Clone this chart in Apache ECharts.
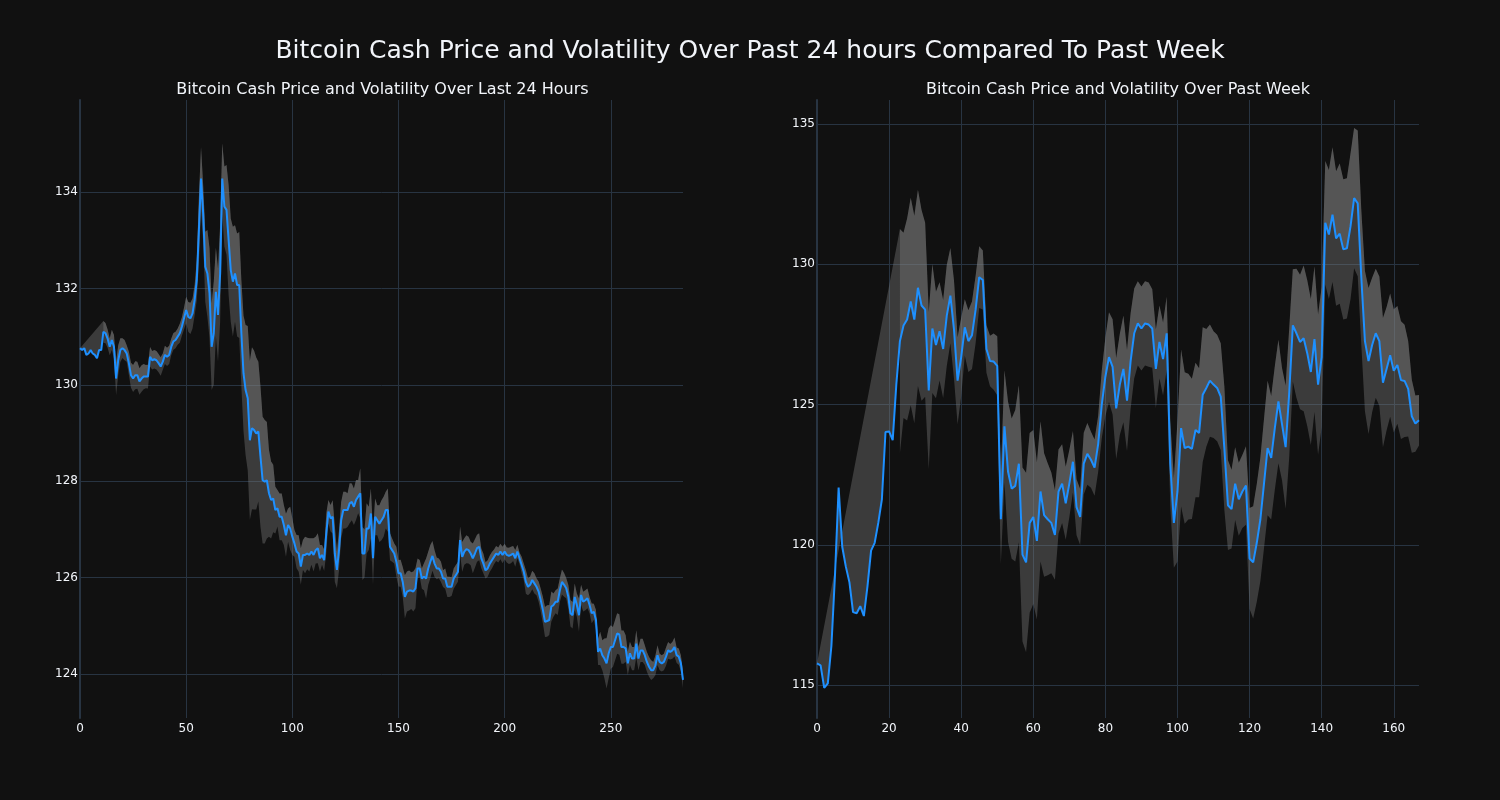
<!DOCTYPE html>
<html>
<head>
<meta charset="utf-8">
<script src="https://cdn.jsdelivr.net/npm/echarts@6/dist/echarts.min.js"></script>
<style>
html,body{margin:0;padding:0;background:#111111;}
#chart{width:1500px;height:800px;}
</style>
</head>
<body>
<div id="chart"></div>
<script>
// ---- Data ----
const mainTitle = 'Bitcoin Cash Price and Volatility Over Past 24 hours Compared To Past Week';
const leftTitle = 'Bitcoin Cash Price and Volatility Over Last 24 Hours';
const rightTitle = 'Bitcoin Cash Price and Volatility Over Past Week';

const leftPrice = [
130.76,130.72,130.76,130.62,130.65,130.72,130.65,130.62,130.55,130.72,
130.72,131.10,131.07,130.96,130.79,130.93,130.79,130.13,130.51,130.72,
130.76,130.72,130.65,130.45,130.20,130.13,130.20,130.20,130.07,130.13,
130.17,130.17,130.17,130.58,130.51,130.53,130.51,130.45,130.38,130.48,
130.62,130.58,130.62,130.79,130.90,130.93,131.00,131.07,131.21,131.38,
131.55,131.41,131.38,131.48,131.76,132.17,133.21,134.28,133.56,132.45,
132.31,131.90,130.79,131.07,131.93,131.45,132.31,134.28,133.70,133.63,
133.00,132.38,132.14,132.31,132.07,132.07,131.07,130.24,129.89,129.72,
128.85,129.10,129.06,128.99,129.03,128.51,128.02,127.99,128.02,127.75,
127.61,127.64,127.40,127.44,127.26,127.26,127.09,126.88,127.09,127.02,
126.85,126.71,126.54,126.50,126.23,126.47,126.47,126.50,126.47,126.54,
126.47,126.57,126.61,126.40,126.47,126.36,126.92,127.37,127.23,127.26,
126.50,126.16,126.57,127.19,127.40,127.40,127.40,127.54,127.57,127.47,
127.61,127.68,127.75,126.50,126.50,127.02,127.02,127.33,126.40,127.26,
127.19,127.12,127.19,127.26,127.40,127.40,126.64,126.57,126.50,126.33,
126.09,126.09,125.91,125.60,125.71,125.73,125.73,125.71,125.78,126.19,
126.19,125.98,126.02,125.98,126.19,126.33,126.45,126.29,126.19,126.19,
126.12,125.98,125.98,125.81,125.81,125.81,125.98,126.05,126.12,126.78,
126.43,126.54,126.59,126.57,126.50,126.40,126.50,126.61,126.64,126.40,
126.29,126.15,126.19,126.29,126.36,126.43,126.50,126.47,126.54,126.47,
126.54,126.47,126.45,126.47,126.50,126.40,126.54,126.40,126.26,126.12,
125.91,125.81,125.85,125.95,125.88,125.81,125.71,125.53,125.33,125.08,
125.10,125.12,125.40,125.43,125.50,125.50,125.74,125.91,125.85,125.78,
125.60,125.26,125.22,125.60,125.43,125.22,125.64,125.50,125.53,125.57,
125.43,125.26,125.29,125.12,124.46,124.53,124.39,124.32,124.22,124.43,
124.56,124.56,124.70,124.84,124.82,124.56,124.56,124.53,124.22,124.43,
124.32,124.32,124.63,124.32,124.49,124.49,124.39,124.25,124.15,124.08,
124.08,124.18,124.39,124.25,124.22,124.25,124.36,124.49,124.46,124.49,
124.56,124.39,124.36,124.22,123.88
];

// half-width of the volatility band (null where not yet defined)
const leftVol = [
null,null,null,null,null,null,null,null,null,null,null,
0.225,0.21,0.19,0.175,0.21,0.245,0.345,0.31,0.245,0.205,
0.21,0.17,0.24,0.26,0.28,0.29,0.28,0.275,0.275,0.26,
0.24,0.245,0.205,0.19,0.19,0.19,0.19,0.19,0.17,0.19,
0.19,0.19,0.17,0.175,0.17,0.17,0.195,0.19,0.225,0.275,
0.31,0.325,0.31,0.315,0.415,0.69,0.655,0.59,0.725,0.9,
0.935,0.9,1.07,0.915,0.97,1.005,0.73,0.83,0.93,1.14,
1.07,1.14,1.0,1.07,1.1,1.1,1.2,1.35,1.5,1.65,
1.68,1.645,1.575,1.45,1.455,1.315,1.28,1.21,0.9,0.8,
0.7,
0.485,0.38,0.485,0.485,0.415,0.445,0.345,0.45,0.38,0.28,
0.345,0.38,0.38,0.31,0.38,0.325,0.345,0.275,0.345,0.275,
0.31,0.275,0.205,0.225,0.415,0.24,0.275,0.345,0.585,0.38,
0.415,0.38,0.38,0.38,0.35,0.415,0.38,0.38,0.415,0.345,
0.52,0.55,0.5,0.52,0.45,0.52,0.55,0.38,0.31,0.38,
0.415,0.415,0.38,0.45,0.28,0.24,0.205,0.31,0.275,0.28,
0.31,0.45,0.415,0.415,0.38,0.415,0.415,0.205,0.175,0.21,
0.28,0.415,0.345,0.345,0.31,0.275,0.225,0.205,0.21,0.175,
0.21,0.21,0.21,0.19,0.21,0.21,0.205,0.28,0.31,0.275,
0.29,0.275,0.245,0.31,0.295,0.28,0.28,0.205,0.205,0.17,
0.17,0.17,0.17,0.155,0.155,0.155,0.16,0.17,0.16,0.155,
0.17,0.17,0.155,0.175,0.14,0.12,0.17,0.175,0.245,0.175,
0.175,0.19,0.21,0.175,0.21,0.24,0.275,0.31,0.325,0.31,
0.31,0.24,0.24,0.275,0.245,0.26,0.245,0.21,0.245,0.275,
0.275,0.275,0.24,0.345,0.21,0.205,0.21,0.205,0.17,0.205,
0.17,0.21,0.275,0.345,0.31,0.415,0.52,0.52,0.45,0.415,
0.42,0.42,0.42,0.345,0.345,0.275,0.24,0.24,0.24,0.24,
0.28,0.24,0.24,0.24,0.205,0.205,0.205,0.205,0.17,0.205,
0.205,0.17,0.17,0.17,0.19,0.175,0.16,0.175,0.195,0.16,
0.17,0.17,0.175
];

const rightPrice = [
115.77,115.70,114.90,115.06,116.40,118.94,122.04,119.93,119.22,118.66,
117.60,117.56,117.81,117.46,118.52,119.79,120.07,120.78,121.62,124.02,
124.04,123.73,125.71,127.26,127.82,128.03,128.67,128.03,129.16,128.53,
128.38,125.50,127.71,127.12,127.61,126.98,128.17,128.88,127.68,125.85,
126.69,127.75,127.26,127.47,128.38,129.54,129.44,126.98,126.55,126.53,
126.38,120.91,124.22,122.60,122.00,122.10,122.89,119.65,119.37,120.78,
120.99,120.14,121.90,121.06,120.91,120.78,120.35,121.90,122.18,121.48,
122.18,122.96,121.34,120.99,122.89,123.24,123.03,122.75,123.59,125.00,
125.99,126.69,126.34,124.86,125.71,126.27,125.14,126.55,127.54,127.89,
127.71,127.89,127.85,127.71,126.27,127.23,126.62,127.54,122.89,120.78,
121.90,124.16,123.45,123.50,123.42,124.09,123.99,125.35,125.59,125.85,
125.71,125.59,125.28,123.45,121.41,121.27,122.18,121.62,121.90,122.11,
119.51,119.37,120.07,120.91,122.18,123.45,123.10,124.16,125.11,124.30,
123.48,125.42,127.82,127.54,127.23,127.36,126.83,126.16,127.33,125.71,
126.69,131.48,131.06,131.77,130.92,131.09,130.53,130.57,131.35,132.36,
132.17,129.52,127.26,126.55,127.12,127.54,127.26,125.78,126.27,126.76,
126.20,126.41,125.87,125.84,125.56,124.58,124.32,124.44
];

const rightVol = [
null,null,null,null,null,null,null,null,null,null,
null,null,null,null,null,null,null,null,null,null,
null,null,null,
4.0,3.3,3.6,3.7,3.7,3.5,3.4,3.1,
2.8,2.3,1.9,1.75,1.75,1.8,1.7,1.75,1.55,1.4,
1.0,1.1,1.2,1.2,1.1,1.05,0.85,0.9,1.0,1.05,
1.6,2.0,2.5,2.5,2.7,2.8,3.1,3.2,3.2,3.1,
2.8,2.5,2.2,2.0,1.8,1.6,1.5,1.4,1.3,1.2,
1.1,1.0,1.0,1.1,1.1,1.0,1.0,1.0,1.2,1.4,
1.6,1.7,1.8,1.8,1.9,1.8,1.7,1.6,1.5,1.5,
1.5,1.5,1.4,1.4,1.3,1.3,1.3,1.5,1.6,2.5,
2.8,2.7,2.6,2.5,2.4,2.3,2.4,2.1,2.0,1.9,
1.9,1.9,2.2,1.6,1.4,1.3,1.3,1.3,1.4,1.8,
2.0,2.1,2.2,2.3,2.4,2.2,2.2,2.2,2.0,2.2,
2.3,2.0,2.3,2.4,2.6,2.6,2.6,2.6,2.5,2.5,
2.2,2.3,2.4,2.4,2.5,2.5,2.5,2.6,2.5,2.6,
2.4,2.5,2.6,2.4,2.3,2.3,2.3,2.2,2.2,2.2,
2.1,2.1,2.0,1.7,1.3,1.0,0.9
];

const leftXTicks = [0, 50, 100, 150, 200, 250];
const leftYTicks = [124, 126, 128, 130, 132, 134];
const rightXTicks = [0, 20, 40, 60, 80, 100, 120, 140, 160];
const rightYTicks = [115, 120, 125, 130, 135];

// ---- Styling ----
const BG = '#111111';
const GRID = '#283442';
const TEXT = '#f2f5fa';
const LINE = '#1E90FF';
const BAND = 'rgba(128,128,128,0.38)';
const FONT = 'DejaVu Sans';

function linePoints(price) { return price.map((p, i) => [i, p]); }

function bandPolygons(price, vol) {
  const up = [], lo = [];
  price.forEach((p, i) => {
    if (vol[i] != null) { up.push([i, p + vol[i]]); lo.push([i, p - vol[i]]); }
  });
  const line = linePoints(price);
  const polyUpperToPrice = up.concat(line.slice().reverse());
  const polyLowerToUpper = lo.concat(up.slice().reverse());
  return [polyUpperToPrice, polyLowerToUpper];
}

function bandSeries(idx, poly) {
  return {
    type: 'custom', xAxisIndex: idx, yAxisIndex: idx, z: 1, silent: true,
    data: [[poly[0][0], poly[0][1]]],
    encode: { x: 0, y: 1 },
    renderItem: function (params, api) {
      return {
        type: 'polygon',
        shape: { points: poly.map(p => api.coord(p)) },
        style: { fill: BAND }
      };
    }
  };
}

function lineSeries(idx, price) {
  return {
    type: 'line', xAxisIndex: idx, yAxisIndex: idx, z: 3, silent: true,
    data: linePoints(price), showSymbol: false, symbol: 'none',
    lineStyle: { color: LINE, width: 2 }
  };
}

function xAxis(idx, max, ticks) {
  return {
    type: 'value', gridIndex: idx, min: 0, max: max,
    axisLine: { show: false },
    axisTick: { show: false, customValues: ticks },
    axisLabel: { color: TEXT, fontSize: 12, fontFamily: FONT, margin: 5, customValues: ticks },
    splitLine: { show: true, lineStyle: { color: GRID, width: 1 } }
  };
}

function yAxis(idx, min, max, ticks) {
  return {
    type: 'value', gridIndex: idx, min: min, max: max, scale: true,
    axisLine: { show: true, onZero: false, lineStyle: { color: GRID, width: 2 } },
    axisTick: { show: false, customValues: ticks },
    axisLabel: { color: TEXT, fontSize: 12, fontFamily: FONT, margin: 2, customValues: ticks },
    splitLine: { show: true, lineStyle: { color: GRID, width: 1 } }
  };
}

const leftPolys = bandPolygons(leftPrice, leftVol);
const rightPolys = bandPolygons(rightPrice, rightVol);

const chart = echarts.init(document.getElementById('chart'), null, { renderer: 'canvas' });
chart.setOption({
  backgroundColor: BG,
  animation: false,
  textStyle: { fontFamily: FONT },
  title: [
    { text: mainTitle, left: 'center', top: 34,
      textStyle: { color: TEXT, fontSize: 25, fontWeight: 'normal', fontFamily: FONT } },
    { text: leftTitle, left: 377.5, textAlign: 'center', top: 77,
      textStyle: { color: TEXT, fontSize: 16, fontWeight: 'normal', fontFamily: FONT } },
    { text: rightTitle, left: 1113, textAlign: 'center', top: 77,
      textStyle: { color: TEXT, fontSize: 16, fontWeight: 'normal', fontFamily: FONT } }
  ],
  grid: [
    { left: 80, top: 100, width: 603, height: 618, containLabel: false },
    { left: 817, top: 100, width: 602, height: 618, containLabel: false }
  ],
  xAxis: [xAxis(0, 284, leftXTicks), xAxis(1, 167, rightXTicks)],
  yAxis: [yAxis(0, 123.087, 135.909, leftYTicks), yAxis(1, 113.824, 135.856, rightYTicks)],
  series: [
    bandSeries(0, leftPolys[0]), bandSeries(0, leftPolys[1]), lineSeries(0, leftPrice),
    bandSeries(1, rightPolys[0]), bandSeries(1, rightPolys[1]), lineSeries(1, rightPrice)
  ]
});
</script>
</body>
</html>
